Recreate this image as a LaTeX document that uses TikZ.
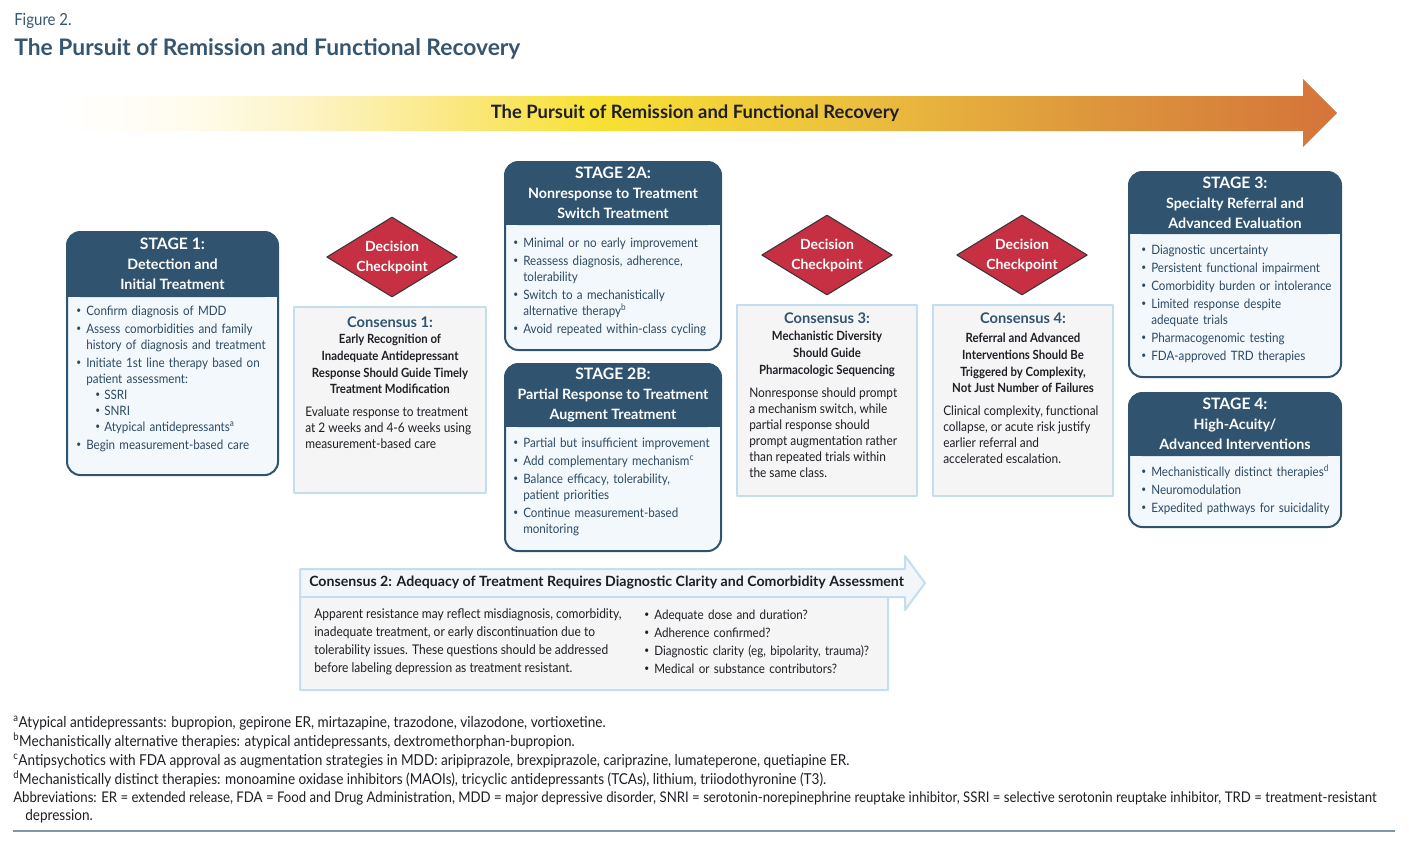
\documentclass[tikz,border=0pt]{standalone}
\usepackage{fontspec}
\setmainfont{Lato}
\newfontfamily\narrow{Lato}[FakeStretch=0.9]
\usetikzlibrary{shapes.geometric}

\definecolor{navy}{HTML}{30546F}
\definecolor{bodyfill}{HTML}{F3F8FC}
\definecolor{bodytext}{HTML}{2D4A63}
\definecolor{decred}{HTML}{C63042}
\definecolor{decedge}{HTML}{3B3538}
\definecolor{consfill}{HTML}{F5F5F6}
\definecolor{consedge}{HTML}{C3DEF1}
\definecolor{headfill}{HTML}{F2F6F9}
\definecolor{titleblue}{HTML}{36566F}
\definecolor{rulegray}{HTML}{7F95AA}
\definecolor{inkblack}{HTML}{1E1E24}
\definecolor{yA}{HTML}{FFFCEE}
\definecolor{yB}{HTML}{FDF3C2}
\definecolor{yC}{HTML}{FAE77A}
\definecolor{yD}{HTML}{F8E133}
\definecolor{yE}{HTML}{ECC03E}
\definecolor{yF}{HTML}{DE983C}
\definecolor{yG}{HTML}{D4743A}

\pgfdeclarehorizontalshading{pursuit}{100bp}{color(0bp)=(white); color(25bp)=(white);
	color(30bp)=(yA); color(35bp)=(yB); color(41bp)=(yC); color(46bp)=(yD);
	color(56bp)=(yE); color(65bp)=(yF); color(75bp)=(yG); color(100bp)=(yG)}

\tikzset{
	stagehead/.style = {text=white, font=\bfseries\fontsize{10.7}{15}\selectfont,
		align=center, inner sep=0pt},
	stagetext/.style = {text=bodytext, font=\narrow\fontsize{9.7}{12}\selectfont,
		anchor=north west, inner sep=0pt},
	decision/.style  = {diamond, aspect=1.64, draw=decedge, fill=decred, line width=0.8pt,
		text=white, font=\bfseries\fontsize{10.5}{15}\selectfont, align=center,
		minimum width=98pt, minimum height=60pt, inner sep=0pt},
	consbox/.style   = {fill=consfill, draw=consedge, line width=2pt},
	conshead/.style  = {text=navy, font=\bfseries\fontsize{11}{13}\selectfont, inner sep=0pt},
	constitle/.style = {text=inkblack, font=\narrow\bfseries\fontsize{9.5}{12.5}\selectfont,
		align=center, anchor=north, inner sep=0pt},
	constext/.style  = {text=inkblack, font=\narrow\fontsize{9.9}{12}\selectfont,
		align=left, anchor=north west, inner sep=0pt},
	footnote/.style  = {text=inkblack, font=\narrow\fontsize{11.3}{13}\selectfont,
		anchor=base west, inner sep=0pt}
}
\newcommand{\dotmark}{\raisebox{0.2ex}{\scriptsize\textbullet}}
\newcommand{\bul}{\par\vspace{1.5pt}\hangindent=7.5pt\hangafter=1\noindent\makebox[7.5pt][l]{\dotmark}}
\newcommand{\subbul}{\par\hangindent=21pt\hangafter=1\noindent\hspace*{14.25pt}\makebox[6.75pt][l]{\dotmark}}
\newcommand{\stageframe}[5]{%
	\fill[bodyfill, rounded corners=10pt] (#1,#2) rectangle (#3,#4);
	\fill[navy, rounded corners=10pt] (#1,#2) rectangle (#3,#5);
	\fill[navy] (#1,#5-20) rectangle (#3,#5);
	\draw[navy, line width=1.5pt, rounded corners=10pt] (#1,#2) rectangle (#3,#4);}

\begin{document}
\begin{tikzpicture}[x=0.75pt, y=-0.75pt, line join=round]
	\useasboundingbox (0,0) rectangle (1409,844);

	% Title
	\draw
	node at (14,25) [anchor=base west, inner sep=0pt, text=titleblue,
		font=\narrow\fontsize{12.5}{14}\selectfont] (figno) {Figure 2.}
	node at (14,55) [anchor=base west, inner sep=0pt, text=titleblue,
		font=\bfseries\fontsize{17.1}{19}\selectfont] (figtitle) {The Pursuit of Remission and Functional Recovery};

	% Pursuit arrow
	\shade[shading=pursuit] (60,96) -- (1303,96) -- (1303,79) -- (1337,113)
		-- (1303,147) -- (1303,131) -- (60,131) -- cycle;
	\draw node at (695,113) [text=inkblack, font=\bfseries\fontsize{13.8}{15}\selectfont] (pursuit)
		{The Pursuit of Remission and Functional Recovery};

	% Stage frames
	\stageframe{67}{232}{278}{475}{297}
	\stageframe{505}{162}{721}{350}{225}
	\stageframe{505}{364}{721}{551}{427}
	\stageframe{1129}{172}{1341}{377}{234}
	\stageframe{1129}{393}{1341}{527}{456}

	% Stage 1
	\draw
	node at (172.5,264) [stagehead] (s1h) {{\fontsize{11.8}{15}\selectfont STAGE 1:}\\Detection and\\Initial Treatment}
	node at (76,297) [stagetext, text width=150pt] (s1b) {\raggedright
		\bul Confirm diagnosis of MDD
		\bul Assess comorbidities and family\newline history of diagnosis and treatment
		\bul Initiate 1st line therapy based on\newline patient assessment:
		\subbul SSRI
		\subbul SNRI
		\subbul Atypical antidepressants\textsuperscript{a}
		\bul Begin measurement-based care\par};

	% Stage 2A and 2B
	\draw
	node at (613,193) [stagehead] (s2ah) {{\fontsize{11.8}{15}\selectfont STAGE 2A:}\\Nonresponse to Treatment\\Switch Treatment}
	node at (513,229) [stagetext, text width=155pt] (s2ab) {\raggedright
		\bul Minimal or no early improvement
		\bul Reassess diagnosis, adherence,\newline tolerability
		\bul Switch to a mechanistically\newline alternative therapy\textsuperscript{b}
		\bul Avoid repeated within-class cycling\par}
	node at (613,395) [stagehead] (s2bh) {{\fontsize{11.8}{15}\selectfont STAGE 2B:}\\Partial Response to Treatment\\Augment Treatment}
	node at (513,429) [stagetext, text width=155pt] (s2bb) {\raggedright
		\bul Partial but insufficient improvement
		\bul Add complementary mechanism\textsuperscript{c}
		\bul Balance efficacy, tolerability,\newline patient priorities
		\bul Continue measurement-based\newline monitoring\par};

	% Stage 3 and 4
	\draw
	node at (1235,203) [stagehead] (s3h) {{\fontsize{11.8}{15}\selectfont STAGE 3:}\\Specialty Referral and\\Advanced Evaluation}
	node at (1141,236) [stagetext, text width=150pt] (s3b) {\raggedright
		\bul Diagnostic uncertainty
		\bul Persistent functional impairment
		\bul Comorbidity burden or intolerance
		\bul Limited response despite\newline adequate trials
		\bul Pharmacogenomic testing
		\bul FDA-approved TRD therapies\par}
	node at (1235,424) [stagehead] (s4h) {{\fontsize{11.8}{15}\selectfont STAGE 4:}\\High-Acuity/\\Advanced Interventions}
	node at (1141,458) [stagetext, text width=150pt] (s4b) {\raggedright
		\bul Mechanistically distinct therapies\textsuperscript{d}
		\bul Neuromodulation
		\bul Expedited pathways for suicidality\par};

	% Decision checkpoints
	\draw
	node at (392,257) [decision] (dec1) {Decision\\Checkpoint}
	node at (827,255) [decision] (dec2) {Decision\\Checkpoint}
	node at (1022,255) [decision] (dec3) {Decision\\Checkpoint};

	% Consensus boxes
	\draw[consbox] (294,307) rectangle (486,493);
	\draw[consbox] (737,305) rectangle (917,496);
	\draw[consbox] (933,305) rectangle (1113,496);

	\draw
	node at (390,322) [conshead] (c1h) {Consensus 1:}
	node at (390,334) [constitle] (c1t) {Early Recognition of\\Inadequate Antidepressant\\Response Should Guide Timely\\Treatment Modification}
	node at (305,406) [constext] (c1b) {Evaluate response to treatment\\at 2 weeks and 4-6 weeks using\\measurement-based care}
	node at (827,318) [conshead] (c3h) {Consensus 3:}
	node at (827,331) [constitle] (c3t) {Mechanistic Diversity\\Should Guide\\Pharmacologic Sequencing}
	node at (749,387) [constext] (c3b) {Nonresponse should prompt\\a mechanism switch, while\\partial response should\\prompt augmentation rather\\than repeated trials within\\the same class.}
	node at (1023,318) [conshead] (c4h) {Consensus 4:}
	node at (1023,333) [constitle] (c4t) {Referral and Advanced\\Interventions Should Be\\Triggered by Complexity,\\Not Just Number of Failures}
	node at (943,405) [constext] (c4b) {Clinical complexity, functional\\collapse, or acute risk justify\\earlier referral and\\accelerated escalation.};

	% Consensus 2 arrow
	\fill[consfill] (300,597) rectangle (888,690);
	\fill[headfill] (300,569) -- (905,569) -- (905,556) -- (925,583) -- (905,610)
		-- (905,597) -- (300,597) -- cycle;
	\draw[consedge, line width=1pt] (300,597) -- (888,597);
	\draw[consedge, line width=1.5pt] (300,569) -- (905,569) -- (905,556) -- (925,583)
		-- (905,610) -- (905,597) -- (888,597) -- (888,690) -- (300,690) -- cycle;
	\draw
	node at (309,583) [anchor=west, inner sep=0pt, text=inkblack,
		font=\bfseries\fontsize{10.6}{12}\selectfont] (c2h)
		{Consensus 2: Adequacy of Treatment Requires Diagnostic Clarity and Comorbidity Assessment}
	node at (314,608) [constext, font=\narrow\fontsize{10}{13.5}\selectfont] (c2b)
		{Apparent resistance may reflect misdiagnosis, comorbidity,\\inadequate treatment, or early discontinuation due to\\tolerability issues. These questions should be addressed\\before labeling depression as treatment resistant.}
	node at (644,601) [stagetext, text=inkblack, text width=180pt,
		font=\narrow\fontsize{9.7}{12}\selectfont] (c2q) {\raggedright
		\bul Adequate dose and duration?
		\bul Adherence confirmed?
		\bul Diagnostic clarity (eg, bipolarity, trauma)?
		\bul Medical or substance contributors?\par};

	% Footnotes
	\draw
	node at (13,727) [footnote] (fna) {\textsuperscript{a}Atypical antidepressants: bupropion, gepirone ER, mirtazapine, trazodone, vilazodone, vortioxetine.}
	node at (13,746) [footnote] (fnb) {\textsuperscript{b}Mechanistically alternative therapies: atypical antidepressants, dextromethorphan-bupropion.}
	node at (13,765) [footnote] (fnc) {\textsuperscript{c}Antipsychotics with FDA approval as augmentation strategies in MDD: aripiprazole, brexpiprazole, cariprazine, lumateperone, quetiapine ER.}
	node at (13,784) [footnote] (fnd) {\textsuperscript{d}Mechanistically distinct therapies: monoamine oxidase inhibitors (MAOIs), tricyclic antidepressants (TCAs), lithium, triiodothyronine (T3).}
	node at (13,802) [footnote, font=\narrow\fontsize{11}{13}\selectfont] (fnabbr) {Abbreviations: ER = extended release, FDA = Food and Drug Administration, MDD = major depressive disorder, SNRI = serotonin-norepinephrine reuptake inhibitor, SSRI = selective serotonin reuptake inhibitor, TRD = treatment-resistant}
	node at (25,820) [footnote] (fnabbr2) {depression.};

	\draw[rulegray, line width=1.2pt] (13,831) -- (1395,831);
\end{tikzpicture}
\end{document}
